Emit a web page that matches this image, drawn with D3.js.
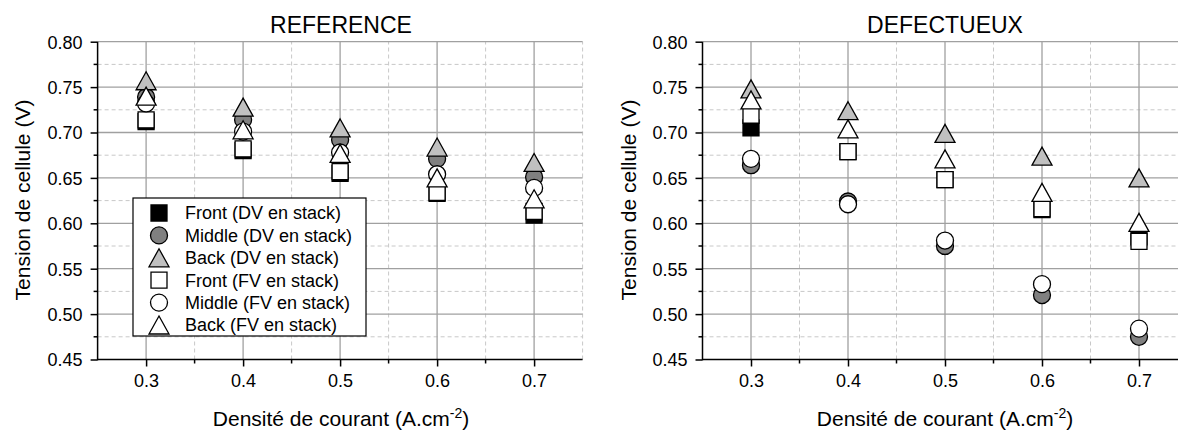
<!DOCTYPE html>
<html><head><meta charset="utf-8">
<script src="https://cdn.jsdelivr.net/npm/d3@7"></script>
<style>body{margin:0;background:#fff}svg{display:block;font-family:"Liberation Sans",Arial,sans-serif}</style>
</head><body><svg id="c" width="1178" height="434"></svg>
<script>
const categories = [0.3, 0.4, 0.5, 0.6, 0.7];
const seriesNames = ["Front (DV en stack)","Middle (DV en stack)","Back (DV en stack)","Front (FV en stack)","Middle (FV en stack)","Back (FV en stack)"];
const yTicks = [0.45,0.50,0.55,0.60,0.65,0.70,0.75,0.80];
const xTicks = [0.3,0.4,0.5,0.6,0.7];
// REFERENCE panel
const refFrontDV  = [0.712, 0.680, 0.655, 0.633, 0.609];
const refMiddleDV = [0.739, 0.714, 0.692, 0.671, 0.651];
const refBackDV   = [0.757, 0.728, 0.705, 0.684, 0.667];
const refFrontFV  = [0.714, 0.682, 0.657, 0.634, 0.613];
const refMiddleFV = [0.732, 0.701, 0.678, 0.654, 0.639];
const refBackFV   = [0.740, 0.703, 0.677, 0.650, 0.627];
// DEFECTUEUX panel
const defFrontDV  = [0.705, 0.679, 0.648, 0.615, 0.585];
const defMiddleDV = [0.664, 0.624, 0.575, 0.521, 0.475];
const defBackDV   = [0.748, 0.724, 0.699, 0.674, 0.650];
const defFrontFV  = [0.719, 0.679, 0.648, 0.616, 0.580];
const defMiddleFV = [0.671, 0.621, 0.581, 0.533, 0.484];
const defBackFV   = [0.736, 0.704, 0.671, 0.634, 0.601];

const styles = [
  {shape:"square", fill:"#000000"},
  {shape:"circle", fill:"#808080"},
  {shape:"triangle", fill:"#c0c0c0"},
  {shape:"square", fill:"#ffffff"},
  {shape:"circle", fill:"#ffffff"},
  {shape:"triangle", fill:"#ffffff"}
];

const svg = d3.select("#c");

function symbolPath(shape){
  if(shape==="square") return "M-8,-8H8V8H-8Z";
  if(shape==="circle") return "M8.5,0A8.5,8.5 0 1,1 -8.5,0A8.5,8.5 0 1,1 8.5,0Z";
  return "M0,-9L10,9L-10,9Z";
}

function panel(opts, series){
  const x = d3.scaleLinear().domain([0.25, 0.75]).range([opts.x0, opts.x0 + 485]);
  const y = d3.scaleLinear().domain([0.45, 0.80]).range([359.5, 41.7]);
  const g = svg.append("g");
  const clipId = "clip" + opts.id;
  svg.append("clipPath").attr("id", clipId).append("rect").attr("x", opts.x0).attr("y", 0).attr("width", 1178 - opts.x0).attr("height", 434);
  const grid = g.append("g").attr("clip-path", `url(#${clipId})`);
  const yMinor = d3.range(0.475, 0.80, 0.05);
  grid.selectAll(".hm").data(yMinor).join("line")
    .attr("x1", x(0.25)).attr("x2", x(0.75)).attr("y1", d=>y(d)).attr("y2", d=>y(d))
    .attr("stroke", "#c8c8c8").attr("stroke-width", 1).attr("stroke-dasharray", "4,3");
  const xMinor = [0.35,0.45,0.55,0.65,0.75];
  grid.selectAll(".vm").data(xMinor).join("line")
    .attr("x1", d=>x(d)).attr("x2", d=>x(d)).attr("y1", y(0.45)).attr("y2", y(0.80))
    .attr("stroke", "#c8c8c8").attr("stroke-width", 1).attr("stroke-dasharray", "4,3");
  grid.selectAll(".hM").data(yTicks.slice(1)).join("line")
    .attr("x1", x(0.25)).attr("x2", x(0.75)).attr("y1", d=>y(d)).attr("y2", d=>y(d))
    .attr("stroke", "#a0a0a0").attr("stroke-width", 1.3);
  grid.selectAll(".vM").data(xTicks).join("line")
    .attr("x1", d=>x(d)).attr("x2", d=>x(d)).attr("y1", y(0.45)).attr("y2", y(0.80))
    .attr("stroke", "#a0a0a0").attr("stroke-width", 1.3);

  const yAxis = d3.axisLeft(y).tickValues(yTicks).tickFormat(d3.format(".2f")).tickSize(7).tickPadding(8);
  const ya = g.append("g").attr("transform", `translate(${x(0.25)},0)`).call(yAxis);
  const xAxis = d3.axisBottom(x).tickValues(xTicks).tickFormat(d3.format(".1f")).tickSize(7).tickPadding(8);
  const xa = g.append("g").attr("transform", `translate(0,${y(0.45)})`).call(xAxis);
  g.append("g").selectAll("line").data(d3.range(0.475,0.80,0.05)).join("line")
    .attr("x1", x(0.25)).attr("x2", x(0.25)-4).attr("y1", d=>y(d)).attr("y2", d=>y(d)).attr("stroke","#000").attr("stroke-width",1.5);
  g.append("g").selectAll("line").data([0.35,0.45,0.55,0.65]).join("line")
    .attr("x1", d=>x(d)).attr("x2", d=>x(d)).attr("y1", y(0.45)).attr("y2", y(0.45)+4).attr("stroke","#000").attr("stroke-width",1.5);
  [ya, xa].forEach(a=>{
    a.select(".domain").remove();
    a.selectAll(".tick line").attr("stroke","#000").attr("stroke-width",1.5);
    a.selectAll("text").attr("font-size", 18).attr("fill","#000").attr("font-family","Liberation Sans, Arial, sans-serif");
  });
  ya.selectAll("text").attr("dy","0.36em");
  g.append("line").attr("x1", x(0.25)).attr("x2", x(0.25)).attr("y1", y(0.80)).attr("y2", y(0.45)+0.75).attr("stroke","#000").attr("stroke-width",1.5);
  g.append("line").attr("x1", x(0.25)).attr("x2", Math.min(x(0.75),1178)).attr("y1", y(0.45)).attr("y2", y(0.45)).attr("stroke","#000").attr("stroke-width",1.5);

  series.forEach((vals, i)=>{
    const st = styles[i];
    g.append("g").selectAll("path").data(vals).join("path")
      .attr("d", symbolPath(st.shape))
      .attr("transform", (d,j)=>`translate(${x(categories[j])},${y(d)})`)
      .attr("fill", st.fill).attr("stroke","#000").attr("stroke-width",1.3);
  });

  g.append("text").attr("x", opts.titleX).attr("y", 33).attr("text-anchor","middle")
    .attr("font-size", 23).text(opts.title);
  g.append("text").attr("transform", `translate(${opts.yTitleX},200) rotate(-90)`).attr("text-anchor","middle")
    .attr("font-size", 21).text("Tension de cellule (V)");
  const xt = g.append("text").attr("x", opts.titleX).attr("y", 426).attr("text-anchor","middle").attr("font-size", 21);
  xt.append("tspan").text("Densité de courant (A.cm");
  xt.append("tspan").attr("font-size", 14).attr("dy", -8).text("-2");
  xt.append("tspan").attr("dy", 8).text(")");
  return {x, y, g};
}

panel({id:"a", x0:97.6, title:"REFERENCE", titleX:341, yTitleX:30},
  [refFrontDV, refMiddleDV, refBackDV, refFrontFV, refMiddleFV, refBackFV]);
panel({id:"b", x0:702.5, title:"DEFECTUEUX", titleX:945, yTitleX:636},
  [defFrontDV, defMiddleDV, defBackDV, defFrontFV, defMiddleFV, defBackFV]);

const lg = svg.append("g");
lg.append("rect").attr("x",133).attr("y",198).attr("width",233).attr("height",138).attr("fill","#fff").attr("stroke","#000").attr("stroke-width",1.2);
const rowY = d3.scalePoint().domain(seriesNames).range([213, 325]);
seriesNames.forEach((n,i)=>{
  const st = styles[i];
  lg.append("path").attr("d", symbolPath(st.shape)).attr("transform",`translate(159,${rowY(n)})`)
    .attr("fill", st.fill).attr("stroke","#000").attr("stroke-width",1.3);
  lg.append("text").attr("x",185).attr("y",rowY(n)).attr("dy","0.36em").attr("font-size",18).text(n);
});
</script></body></html>
